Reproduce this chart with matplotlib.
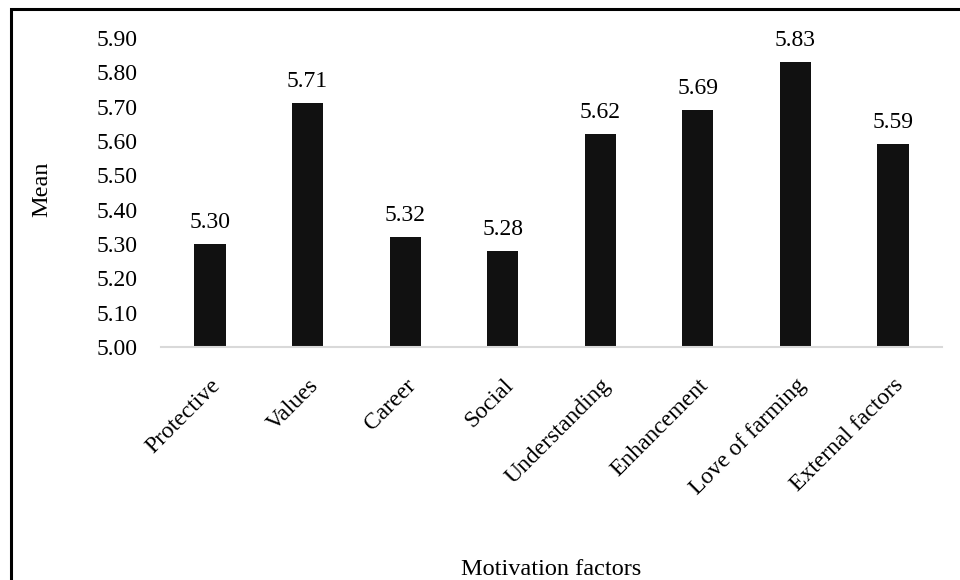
import matplotlib
matplotlib.use("Agg")
import matplotlib.pyplot as plt
from matplotlib.patches import Rectangle

plt.rcParams["font.family"] = ["Liberation Serif", "DejaVu Serif"]

factors = ["Protective", "Values", "Career", "Social", "Understanding",
           "Enhancement", "Love of farming", "External factors"]
means = [5.30, 5.71, 5.32, 5.28, 5.62, 5.69, 5.83, 5.59]
yticks = [5.00, 5.10, 5.20, 5.30, 5.40, 5.50, 5.60, 5.70, 5.80, 5.90]

fig = plt.figure(figsize=(9.6, 5.8), dpi=100)
ax = fig.add_axes([0.168, 0.4017, 0.813, 0.533])

x = list(range(len(factors)))
ax.bar(x, [m - 5.0 for m in means], bottom=5.0, width=0.32, color="#111111")
for xi, m in zip(x, means):
    ax.annotate(f"{m:.2f}", (xi, m), xytext=(0, 8), textcoords="offset points",
                ha="center", va="bottom", fontsize=17)

ax.set_xlim(-0.5, len(factors) - 0.5)
ax.set_ylim(5.0, 5.9)
ax.set_yticks(yticks)
ax.set_yticklabels([f"{t:.2f}" for t in yticks], fontsize=17)
ax.set_xticks(x)
ax.set_xticklabels(factors, rotation=45, ha="right", rotation_mode="anchor", fontsize=17)
ax.tick_params(axis="both", length=0)
ax.tick_params(axis="y", pad=17)
ax.tick_params(axis="x", pad=20)

for s in ["top", "right", "left"]:
    ax.spines[s].set_visible(False)
ax.spines["bottom"].set_color("#d9d9d9")
ax.spines["bottom"].set_linewidth(1.5)

ax.set_xlabel("Motivation factors", fontsize=17.5)
ax.set_ylabel("Mean", fontsize=17.5)
ax.xaxis.set_label_coords(0.5, -0.685)
ax.yaxis.set_label_coords(-0.14, 0.51)

# outer frame
fig.patches.append(Rectangle((11 / 960, -0.1), 1.2, 1 - 9 / 580 + 0.1, transform=fig.transFigure,
                             fill=False, edgecolor="black", linewidth=2.2))

fig.savefig("out.png", dpi=100)
